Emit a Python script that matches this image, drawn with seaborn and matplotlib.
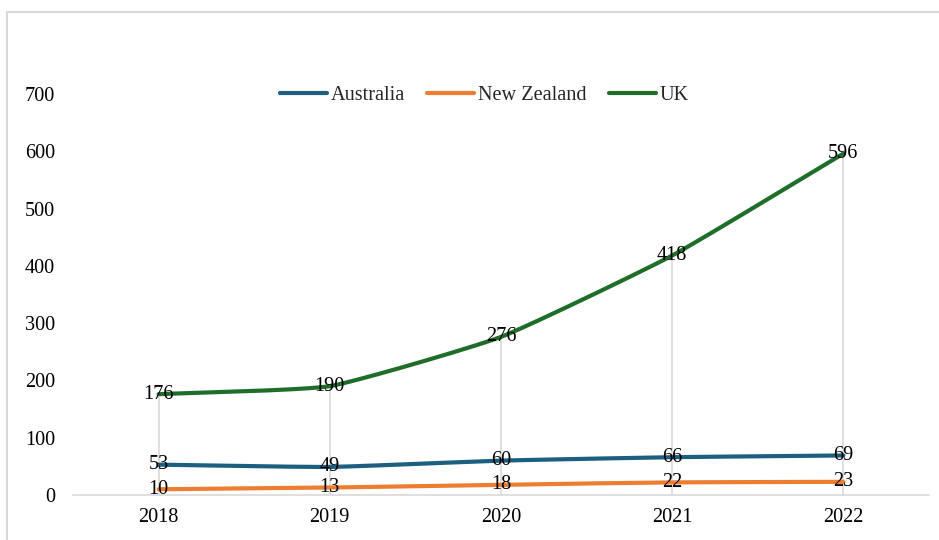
import numpy as np
import pandas as pd
import matplotlib
matplotlib.use("Agg")
import matplotlib.pyplot as plt
from matplotlib.patches import Rectangle
from matplotlib.lines import Line2D
import seaborn as sns

years = ["2018", "2019", "2020", "2021", "2022"]
australia = [53, 49, 60, 66, 69]
new_zealand = [10, 13, 18, 22, 23]
uk = [176, 190, 276, 418, 596]
series_names = ["Australia", "New Zealand", "UK"]
colors = ["#1c5f80", "#ed7d31", "#1e6e2a"]
y_ticks = [0, 100, 200, 300, 400, 500, 600, 700]

sns.set_theme(style="white")
plt.rcParams["font.family"] = ["Liberation Serif", "DejaVu Serif"]
FS = 14.6

def smooth(xs, ys, n=40, s=0.22):
    # cardinal spline (Hermite) through the data points
    xs = np.asarray(xs, float); ys = np.asarray(ys, float)
    m = len(xs)
    def tangents(p):
        t = np.zeros(m)
        for i in range(m):
            a = p[max(i-1, 0)]; b = p[min(i+1, m-1)]
            t[i] = s * (b - a) * (2 if i in (0, m-1) else 1)
        return t
    tx, ty = tangents(xs), tangents(ys)
    ox, oy = [], []
    for i in range(m-1):
        u = np.linspace(0, 1, n, endpoint=(i == m-2))
        h00 = 2*u**3 - 3*u**2 + 1; h10 = u**3 - 2*u**2 + u
        h01 = -2*u**3 + 3*u**2; h11 = u**3 - u**2
        ox.extend(h00*xs[i] + h10*tx[i] + h01*xs[i+1] + h11*tx[i+1])
        oy.extend(h00*ys[i] + h10*ty[i] + h01*ys[i+1] + h11*ty[i+1])
    return np.array(ox), np.array(oy)

xpos = np.arange(len(years))
rows = []
for name, vals in zip(series_names, [australia, new_zealand, uk]):
    sx, sy = smooth(xpos, vals)
    rows.append(pd.DataFrame({"x": sx, "y": sy, "country": name}))
df = pd.concat(rows, ignore_index=True)

fig = plt.figure(figsize=(9.39, 5.4), dpi=100)
ax = fig.add_axes([73/939, 1-495/540, (929-73)/939, (495-94)/540])

# drop lines
for xi, v in zip(xpos, uk):
    ax.plot([xi, xi], [0, v], color="#d9d9d9", lw=1.2, zorder=1)

sns.lineplot(data=df, x="x", y="y", hue="country", palette=colors,
             hue_order=series_names, linewidth=3, sort=False, estimator=None,
             legend=False, ax=ax, zorder=3)

for vals in [australia, new_zealand, uk]:
    for xi, v in zip(xpos, vals):
        ax.text(xi, v, str(v), ha="center", va="center", fontsize=FS, color="black", zorder=4)

ax.set_xlim(-0.5, 4.5)
ax.set_ylim(0, 700)
ax.set_xticks(xpos)
ax.set_xticklabels(years)
ax.set_yticks(y_ticks)
ax.set_xlabel("")
ax.set_ylabel("")
ax.tick_params(axis="x", length=0, pad=9, labelsize=FS, colors="black")
ax.tick_params(axis="y", length=0, pad=13, labelsize=FS, colors="black")
for s in ["top", "right", "left"]:
    ax.spines[s].set_visible(False)
ax.spines["bottom"].set_color("#d9d9d9")
ax.spines["bottom"].set_linewidth(1.2)
ax.grid(False)

handles = [Line2D([0], [0], color=c, lw=3) for c in colors]
fig.legend(handles, series_names, loc="center", bbox_to_anchor=(0.516, 1-95/540),
           ncol=3, frameon=False, fontsize=FS, handlelength=2.3, handletextpad=0.2,
           columnspacing=1.1)

fig.patches.append(Rectangle((7/939, -0.1), 1.2, 1-12/540+0.1, transform=fig.transFigure,
                             fill=False, edgecolor="#d9d9d9", lw=1.5))

fig.savefig("out.png", dpi=100)
